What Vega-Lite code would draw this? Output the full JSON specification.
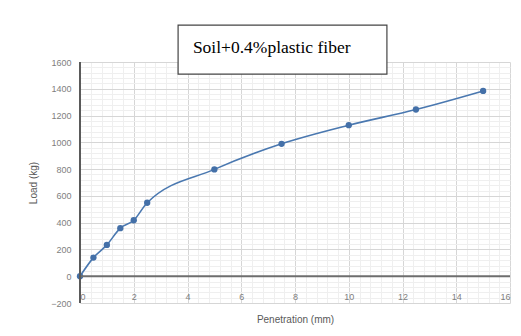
{
  "$schema": "https://vega.github.io/schema/vega-lite/v6.json",
  "width": 430,
  "height": 241,
  "autosize": {"type": "none"},
  "padding": {"left": 80, "top": 62, "right": 11, "bottom": 33},
  "background": "white",
  "config": {
    "view": {"stroke": null},
    "font": "Liberation Sans"
  },
  "data": {
    "values": [
      {"penetration": 0, "load": 0},
      {"penetration": 0.5, "load": 139},
      {"penetration": 1, "load": 234},
      {"penetration": 1.5, "load": 359},
      {"penetration": 2, "load": 418},
      {"penetration": 2.5, "load": 549},
      {"penetration": 5, "load": 798},
      {"penetration": 7.5, "load": 989},
      {"penetration": 10, "load": 1128},
      {"penetration": 12.5, "load": 1245},
      {"penetration": 15, "load": 1384}
    ]
  },
  "resolve": {"axis": {"x": "independent", "y": "independent"}},
  "layer": [
    {
      "mark": {"type": "line", "interpolate": "monotone", "color": "#4a78b0", "strokeWidth": 1.6},
      "encoding": {
        "x": {
          "field": "penetration", "type": "quantitative",
          "scale": {"domain": [0, 16], "nice": false, "zero": false},
          "axis": {
            "orient": "top", "title": null, "labels": false, "ticks": false, "domain": false,
            "grid": true, "gridColor": "#efefef", "gridWidth": 1,
            "values": [0.4,0.8,1.2,1.6,2.4,2.8,3.2,3.6,4.4,4.8,5.2,5.6,6.4,6.8,7.2,7.6,8.4,8.8,9.2,9.6,10.4,10.8,11.2,11.6,12.4,12.8,13.2,13.6,14.4,14.8,15.2,15.6]
          }
        },
        "y": {
          "field": "load", "type": "quantitative",
          "scale": {"domain": [-200, 1600], "nice": false, "zero": false},
          "axis": {
            "orient": "right", "title": null, "labels": false, "ticks": false, "domain": false,
            "grid": true, "gridColor": "#efefef", "gridWidth": 1,
            "values": [-160,-120,-80,-40,40,80,120,160,240,280,320,360,440,480,520,560,640,680,720,760,840,880,920,960,1040,1080,1120,1160,1240,1280,1320,1360,1440,1480,1520,1560]
          }
        }
      }
    },
    {
      "mark": {"type": "point", "filled": true, "color": "#4470a8", "size": 40, "opacity": 1},
      "encoding": {
        "x": {
          "field": "penetration", "type": "quantitative",
          "axis": {
            "orient": "bottom", "title": "Penetration (mm)",
            "values": [0,2,4,6,8,10,12,14,16],
            "grid": true, "gridColor": "#d6d6d6", "gridWidth": 1,
            "domain": false, "ticks": false,
            "labelBaseline": "top", "labelPadding": -11,
            "labelFontSize": 9, "labelColor": "#808080",
            "titleFontSize": 10, "titleColor": "#595959", "titleFontWeight": "normal",
            "titleY": 19, "titleBaseline": "alphabetic"
          }
        },
        "y": {
          "field": "load", "type": "quantitative",
          "axis": {
            "orient": "left", "title": "Load (kg)",
            "values": [-200,0,200,400,600,800,1000,1200,1400,1600],
            "format": "d",
            "grid": true, "gridColor": "#d6d6d6", "gridWidth": 1,
            "domain": false,
            "ticks": false, "labelPadding": 9,
            "labelFontSize": 9, "labelColor": "#808080",
            "titleFontSize": 10, "titleColor": "#595959", "titleFontWeight": "normal",
            "titlePadding": 12
          }
        }
      }
    },
    {
      "data": {"values": [{}]},
      "mark": {"type": "rule", "color": "#6e6e6e", "strokeWidth": 2},
      "encoding": {"y": {"datum": 0, "axis": null}}
    },
    {
      "data": {"values": [{}]},
      "mark": {"type": "rule", "color": "#5a5a5a", "strokeWidth": 2},
      "encoding": {"x": {"datum": 0, "axis": null}}
    },
    {
      "data": {"values": [{}]},
      "mark": {"type": "rect", "fill": "white", "stroke": "#444444", "strokeWidth": 1.2},
      "encoding": {
        "x": {"datum": 3.65, "axis": null},
        "x2": {"datum": 11.42},
        "y": {"datum": 1876, "axis": null},
        "y2": {"datum": 1510}
      }
    },
    {
      "data": {"values": [{}]},
      "mark": {"type": "text", "font": "Liberation Serif", "fontSize": 17.5, "fontWeight": "normal", "color": "black", "align": "left", "baseline": "middle"},
      "encoding": {
        "x": {"datum": 4.2, "axis": null},
        "y": {"datum": 1705, "axis": null},
        "text": {"value": "Soil+0.4%plastic fiber"}
      }
    }
  ]
}
